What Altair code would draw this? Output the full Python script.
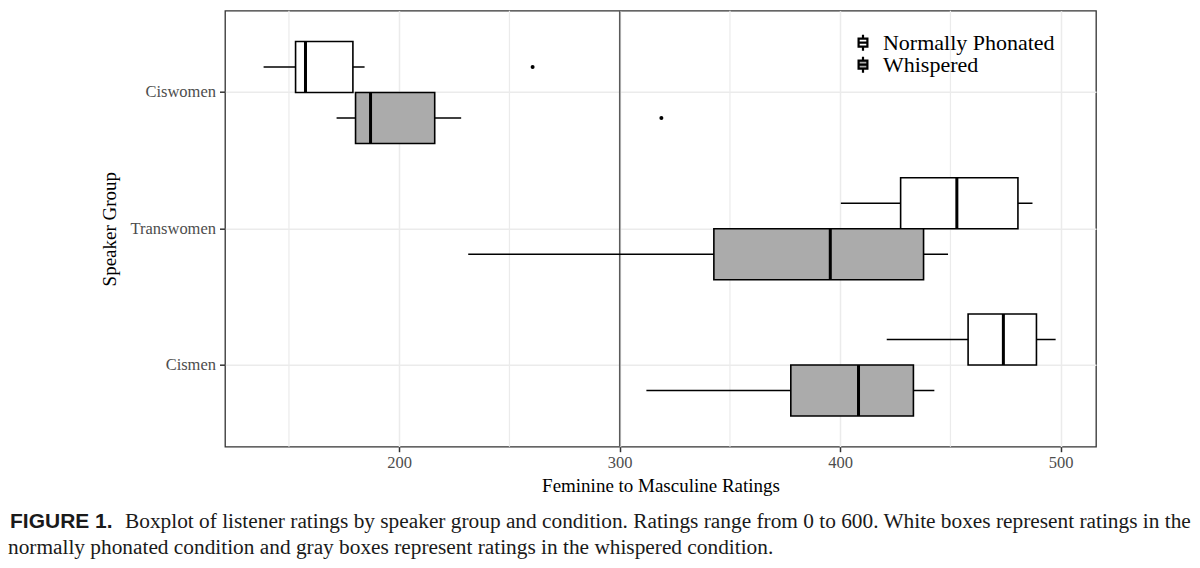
import altair as alt
import pandas as pd

# ---- data ----
groups = ["Ciswomen", "Ciswomen", "Transwomen", "Transwomen", "Cismen", "Cismen"]
conditions = ["Normally Phonated", "Whispered", "Normally Phonated", "Whispered",
              "Normally Phonated", "Whispered"]
lower = [138.5, 171.6, 400.3, 231.3, 421.1, 312.1]
q1 = [153.0, 180.2, 427.4, 342.7, 458.0, 377.6]
median = [157.5, 187.0, 452.9, 395.5, 474.0, 408.3]
q3 = [179.0, 216.1, 480.6, 437.8, 489.0, 433.2]
upper = [184.3, 228.1, 487.2, 448.9, 497.7, 442.7]

outlier_groups = ["Ciswomen", "Ciswomen"]
outlier_conditions = ["Normally Phonated", "Whispered"]
outlier_values = [260.5, 318.9]

group_order = ["Ciswomen", "Transwomen", "Cismen"]
condition_order = ["Normally Phonated", "Whispered"]
major_ticks = [200, 300, 400, 500]
minor_ticks = [150, 250, 350, 450]
reference_value = [300]
x_domain = [121, 516]

x_title = "Feminine to Masculine Ratings"
y_title = "Speaker Group"
caption_label = "FIGURE 1."
caption_line1 = ("Boxplot of listener ratings by speaker group and condition. Ratings range "
                 "from 0 to 600. White boxes represent ratings in the")
caption_line2 = ("normally phonated condition and gray boxes represent ratings in the "
                 "whispered condition.")

boxes = pd.DataFrame({"group": groups, "condition": conditions, "lower": lower,
                      "q1": q1, "median": median, "q3": q3, "upper": upper})
outliers = pd.DataFrame({"group": outlier_groups, "condition": outlier_conditions,
                         "value": outlier_values})

SERIF = "Liberation Serif"

x_scale = alt.Scale(domain=x_domain, nice=False, zero=False)
x_axis = alt.Axis(values=major_ticks, title=x_title, grid=True, gridColor="#EBEBEB",
                  gridWidth=1.5, domain=False, tickColor="#333333", tickSize=5,
                  tickWidth=1.5, labelFont=SERIF, labelFontSize=16.5,
                  labelColor="#4D4D4D", labelPadding=3, titleFont=SERIF,
                  titleFontSize=19, titleFontWeight="normal", titleColor="black",
                  titleBaseline="alphabetic", titleY=45)

y_enc = alt.Y("group:N",
              scale=alt.Scale(domain=group_order, paddingInner=0, paddingOuter=0.1),
              axis=alt.Axis(title=y_title, grid=True, gridColor="#EBEBEB", gridWidth=1.5,
                            bandPosition=0.5, domain=False, tickColor="#333333",
                            tickSize=5.5, tickWidth=1.5, labelFont=SERIF,
                            labelFontSize=16.5, labelColor="#4D4D4D", labelPadding=4,
                            titleFont=SERIF, titleFontSize=19, titleFontWeight="normal",
                            titleColor="black", titleBaseline="alphabetic",
                            titleX=-109.5, titleY=218))
yoff_enc = alt.YOffset("condition:N",
                       scale=alt.Scale(domain=condition_order, paddingInner=0,
                                       paddingOuter=0.336))

minor = alt.Chart(pd.DataFrame({"v": minor_ticks})).mark_rule(
    color="#EBEBEB", strokeWidth=1.2).encode(x=alt.X("v:Q", scale=x_scale, axis=x_axis))

ref = alt.Chart(pd.DataFrame({"v": reference_value})).mark_rule(
    color="#5A5A5A", strokeWidth=1.5).encode(x=alt.X("v:Q", scale=x_scale, axis=x_axis))

whiskers = alt.Chart(boxes).mark_rule(color="black", strokeWidth=1.6).encode(
    x=alt.X("lower:Q", scale=x_scale, axis=x_axis), x2="upper:Q",
    y=y_enc, yOffset=yoff_enc)

box_path = "M-0.55,-0.5H0.55V0.5H-0.55Z M-0.55,0H0.55 M0,-1V-0.5 M0,0.5V1"

box = alt.Chart(boxes).mark_bar(stroke="black", strokeWidth=1.6).encode(
    x=alt.X("q1:Q", scale=x_scale, axis=x_axis), x2="q3:Q",
    y=y_enc, yOffset=yoff_enc,
    fill=alt.Fill("condition:N",
                  scale=alt.Scale(domain=condition_order, range=["white", "#ABABAB"]),
                  legend=alt.Legend(title=None, orient="none", legendX=627, legendY=22,
                                    padding=0, symbolType=box_path, symbolSize=256,
                                    symbolStrokeColor="black", symbolStrokeWidth=2.2,
                                    labelFont=SERIF, labelFontSize=22,
                                    labelColor="black", labelOffset=9, labelLimit=0,
                                    clipHeight=20, rowPadding=0)))

med = alt.Chart(boxes).mark_bar(fill="transparent", stroke="black", strokeWidth=3).encode(
    x=alt.X("median:Q", scale=x_scale, axis=x_axis), x2="median:Q",
    y=y_enc, yOffset=yoff_enc)

pts = alt.Chart(outliers).mark_point(filled=True, color="black", size=16, opacity=1).encode(
    x=alt.X("value:Q", scale=x_scale, axis=x_axis), y=y_enc, yOffset=yoff_enc)

cap_df = pd.DataFrame({"a": [caption_label], "b": [caption_line1], "c": [caption_line2]})
cap_a = alt.Chart(cap_df).mark_text(align="left", baseline="alphabetic",
                                    font="Liberation Sans", fontWeight="bold",
                                    fontSize=21, color="#1A1A1A").encode(
    x=alt.value(-215), y=alt.value(517.3), text="a:N")
cap_b = alt.Chart(cap_df).mark_text(align="left", baseline="alphabetic", font=SERIF,
                                    fontSize=21.35, color="#1A1A1A").encode(
    x=alt.value(-100), y=alt.value(517.3), text="b:N")
cap_c = alt.Chart(cap_df).mark_text(align="left", baseline="alphabetic", font=SERIF,
                                    fontSize=21.35, color="#1A1A1A").encode(
    x=alt.value(-217), y=alt.value(543.3), text="c:N")

chart = alt.layer(minor, ref, whiskers, box, med, pts, cap_a, cap_b, cap_c).properties(
    width=871, height=436,
    padding={"left": 217, "top": 2.7, "right": 96, "bottom": 113},
    autosize=alt.AutoSizeParams(type="none"),
    background="white",
).configure_view(stroke="#333333", strokeWidth=1.3)

chart.save("out.html", embed_options={"renderer": "svg", "actions": False})
